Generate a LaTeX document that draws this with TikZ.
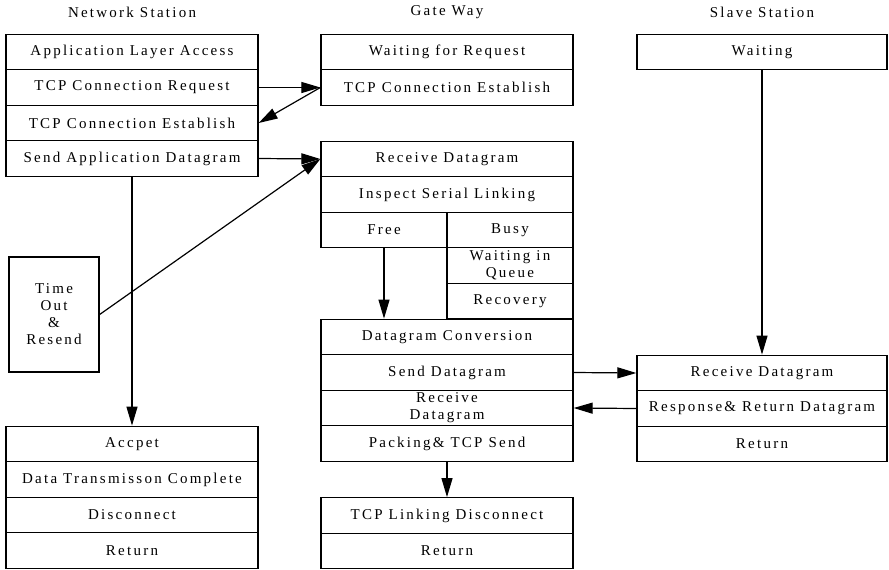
\documentclass[tikz,border=0pt]{standalone}
\usepackage{fontspec}
\setmainfont{Liberation Serif}[LetterSpace=15]
\usetikzlibrary{arrows.meta}
\begin{document}
\begin{tikzpicture}[x=1pt,y=-1pt,
  cell/.style={draw, line width=1.3pt, rectangle, inner sep=0pt, minimum width=252pt, minimum height=35.5pt, align=center, font=\fontsize{15}{17}\selectfont},
  half/.style={cell, minimum width=126pt},
  title/.style={font=\fontsize{15}{17}\selectfont},
  arr/.style={line width=1.2pt, -{Triangle[length=19pt,width=11pt]}}]
\useasboundingbox (0,0) rectangle (889,570);
% titles
\node[title] (tNS) at (132,12.5) {Network Station};
\node[title] (tGW) at (447,12.5) {Gate Way};
\node[title] (tSS) at (762,12.5) {Slave Station};
% network station
\node[cell] (ala) at (132,52) {Application Layer Access};
\node[cell] (reqL) at (132,87.5) {TCP Connection Request};
\node[cell] (estL) at (132,123) {TCP Connection Establish};
\node[cell] (sendL) at (132,158.5) {Send Application Datagram};
\node[cell, minimum width=90pt, minimum height=115pt] (tout) at (54,314.5) {Time\\Out\\\&\\Resend};
\node[cell] (acc) at (132,444) {Accpet};
\node[cell] (dtc) at (132,479.5) {Data Transmisson Complete};
\node[cell] (dis) at (132,515) {Disconnect};
\node[cell] (retL) at (132,550.5) {Return};
% gateway
\node[cell] (waitG) at (447,52) {Waiting for Request};
\node[cell] (estG) at (447,87.5) {TCP Connection Establish};
\node[cell] (recvG) at (447,159) {Receive Datagram};
\node[cell] (insp) at (447,194.5) {Inspect Serial Linking};
\node[half] (free) at (384,230) {Free};
\node[half] (busy) at (510,230) {Busy};
\node[half] (queue) at (510,265.5) {Waiting in\\Queue};
\node[half] (recov) at (510,301) {Recovery};
\node[cell] (conv) at (447,337) {Datagram Conversion};
\node[cell] (sendG) at (447,372.5) {Send Datagram};
\node[cell] (recv2G) at (447,408) {Receive\\Datagram};
\node[cell] (pack) at (447,443.5) {Packing\& TCP Send};
\node[cell] (disc) at (447,515.5) {TCP Linking Disconnect};
\node[cell] (retG) at (447,551) {Return};
% slave station
\node[cell, minimum width=250pt] (waitS) at (762,52) {Waiting};
\node[cell, minimum width=250pt] (recvS) at (762,373) {Receive Datagram};
\node[cell, minimum width=250pt] (respS) at (762,408.5) {Response\& Return Datagram};
\node[cell, minimum width=250pt] (retS) at (762,444) {Return};
% connectors
\draw[arr] (reqL.east) -- (estG.west);
\draw[arr] (estG.west) -- (estL.east);
\draw[arr] (sendL.east) -- (recvG.west);
\draw[arr] (tout.east) -- (recvG.west);
\draw[arr] (sendL.south) -- (acc.north);
\draw[arr] (free.south) -- (conv.north -| free.south);
\draw[arr] (pack.south) -- (disc.north);
\draw[arr] (waitS.south) -- (recvS.north);
\draw[arr] (sendG.east) -- (recvS.west);
\draw[arr] (respS.west) -- (recv2G.east);
\end{tikzpicture}
\end{document}
